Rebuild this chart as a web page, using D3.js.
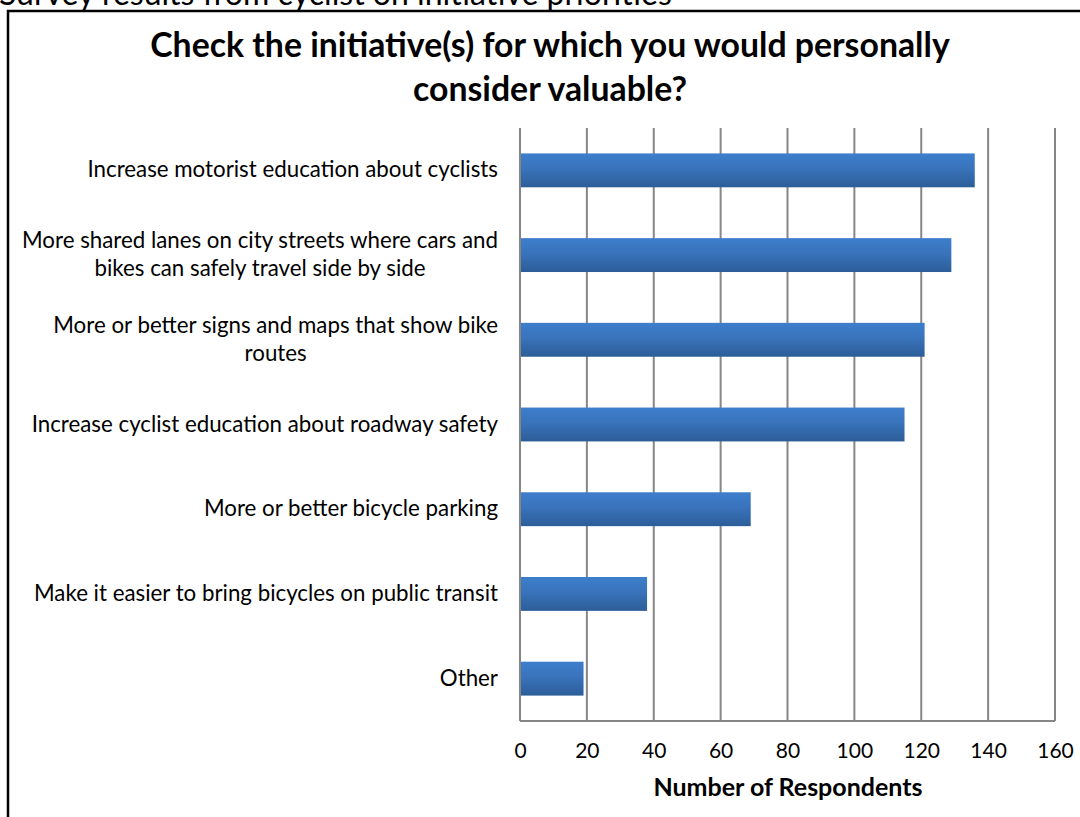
<!DOCTYPE html>
<html>
<head>
<meta charset="utf-8">
<script src="https://cdn.jsdelivr.net/npm/d3@7"></script>
<style>
  body { margin: 0; background: #fff; }
  svg { display: block; }
  text { font-family: Lato, "Open Sans", sans-serif; fill: #000; }
</style>
</head>
<body>
<svg width="1080" height="817"></svg>
<script>
// data, top to bottom as in the chart
var categories = [
    "Increase motorist education about cyclists",
    "More shared lanes on city streets where cars and\nbikes can safely travel side by side",
    "More or better signs and maps that show bike\nroutes",
    "Increase cyclist education about roadway safety",
    "More or better bicycle parking",
    "Make it easier to bring bicycles on public transit",
    "Other"
];
var respondents = [136, 129, 121, 115, 69, 38, 19];
var xTicks = [0, 20, 40, 60, 80, 100, 120, 140, 160];

var pageTitle = "Survey results from cyclist on initiative priorities";
var chartTitle = ["Check the initiative(s) for which you would personally", "consider valuable?"];
var xTitle = "Number of Respondents";

var svg = d3.select("svg");

// plot area
var plotLeft = 520, plotRight = 1055, plotTop = 128, plotBottom = 721;

var x = d3.scaleLinear().domain([0, 160]).range([plotLeft, plotRight]);
var y = d3.scaleBand().domain(categories).range([plotTop, plotBottom]).paddingInner(0.6).paddingOuter(0.3);

// gradient for the bars
var defs = svg.append("defs");
var grad = defs.append("linearGradient")
    .attr("id", "barGrad")
    .attr("x1", 0).attr("y1", 0).attr("x2", 0).attr("y2", 1);
grad.append("stop").attr("offset", "0%").attr("stop-color", "#3d7ecc");
grad.append("stop").attr("offset", "45%").attr("stop-color", "#3973bb");
grad.append("stop").attr("offset", "100%").attr("stop-color", "#2c5d98");

// header text, partly cut off at the top of the page
svg.append("text")
    .attr("x", -1)
    .attr("y", 5)
    .style("font-size", "32px")
    .text(pageTitle);

// chart frame
svg.append("rect")
    .attr("x", 8).attr("y", 11)
    .attr("width", 1200).attr("height", 1000)
    .attr("fill", "white")
    .attr("stroke", "#000")
    .attr("stroke-width", 2.5);

// title
svg.append("g")
    .selectAll("text")
    .data(chartTitle)
    .enter().append("text")
    .attr("x", 550)
    .attr("y", (d, i) => 57 + i * 44)
    .attr("text-anchor", "middle")
    .style("font-size", "33.8px")
    .style("font-weight", "bold")
    .text((d) => d);

// vertical gridlines
svg.append("g")
    .attr("class", "grid")
    .selectAll("line")
    .data(xTicks)
    .enter().append("line")
    .attr("x1", (d) => x(d)).attr("x2", (d) => x(d))
    .attr("y1", plotTop).attr("y2", plotBottom)
    .attr("stroke", "#868686")
    .attr("stroke-width", 2);

// bottom axis line
svg.append("line")
    .attr("x1", plotLeft).attr("x2", plotRight)
    .attr("y1", plotBottom).attr("y2", plotBottom)
    .attr("stroke", "#868686")
    .attr("stroke-width", 2);

// bars
svg.append("g")
    .attr("class", "bars")
    .selectAll("rect")
    .data(respondents)
    .enter().append("rect")
    .attr("x", x(0) + 1)
    .attr("y", (d, i) => y(categories[i]))
    .attr("width", (d) => x(d) - x(0) - 1)
    .attr("height", y.bandwidth())
    .attr("fill", "url(#barGrad)");

// x axis
var xAxis = svg.append("g")
    .attr("transform", `translate(0, ${plotBottom + 22})`)
    .call(d3.axisBottom(x).tickValues(xTicks).tickSize(0).tickPadding(0));
xAxis.select(".domain").remove();
xAxis.selectAll("text")
    .style("font-size", "21px")
    .style("font-family", "Lato, sans-serif")
    .attr("fill", "#000");

svg.append("text")
    .attr("x", 788)
    .attr("y", 796)
    .attr("text-anchor", "middle")
    .style("font-size", "25px")
    .style("font-weight", "bold")
    .text(xTitle);

// category labels, wrapped lines centred on each other, block right aligned
var labelRight = 498, lineH = 28;
var labels = svg.append("g").attr("class", "labels");
categories.forEach(function (c) {
    var lines = c.split("\n");
    var g = labels.append("g");
    var texts = g.selectAll("text")
        .data(lines)
        .enter().append("text")
        .style("font-size", "22.3px")
        .attr("y", (d, i) => y(c) + y.bandwidth() / 2 + 7 + (i - (lines.length - 1) / 2) * lineH)
        .text((d) => d);
    var maxW = d3.max(texts.nodes(), (n) => n.getComputedTextLength());
    texts.attr("text-anchor", "middle").attr("x", labelRight - maxW / 2);
});
</script>
</body>
</html>
